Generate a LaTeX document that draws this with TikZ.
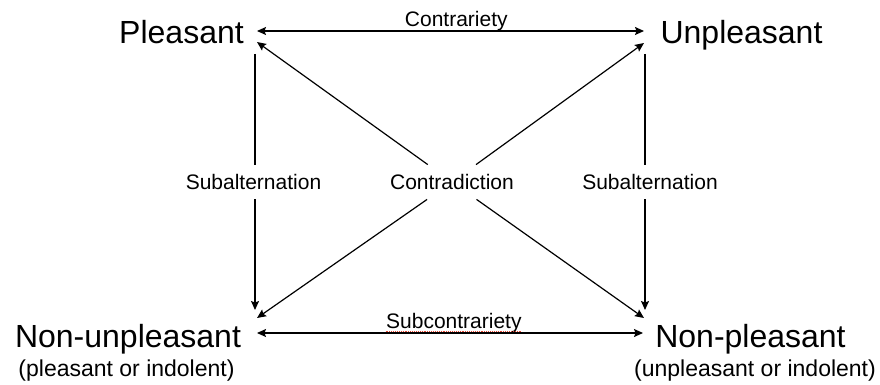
\documentclass[tikz,border=0pt]{standalone}
\usepackage{fontspec}
\setmainfont{Liberation Sans}
\usepackage{tikz}
\usetikzlibrary{arrows.meta, positioning, calc}
\definecolor{spell}{RGB}{226,70,50}

\begin{document}
\begin{tikzpicture}[x=1pt, y=-1pt,
    corner/.style={font=\fontsize{32}{38}\selectfont, anchor=base, inner sep=0pt},
    gloss/.style={font=\fontsize{23}{28}\selectfont, anchor=base, inner sep=0pt},
    lbl/.style={font=\fontsize{21}{25}\selectfont, inner xsep=2pt, inner ysep=9.5pt},
    rel/.style={line width=1.2pt},
    arr/.style={rel, -{Stealth[length=9pt, width=8pt, inset=1.5pt]}},
    arrs/.style={rel, {Stealth[length=9pt, width=8pt, inset=1.5pt]}-{Stealth[length=9pt, width=8pt, inset=1.5pt]}}]
  \useasboundingbox (0,0) rectangle (880,385);
  % square corners
  \node[corner] (pleasant) at (181.5,44) {Pleasant};
  \node[corner] (unpleasant) at (741.5,44) {Unpleasant};
  \node[corner] (nonunpl) at (128,347) {Non-unpleasant};
  \node[corner] (nonpl) at (750.5,347) {Non-pleasant};
  \node[gloss] (nonunplgl) at (126.5,376) {(pleasant or indolent)};
  \node[gloss] (nonplgl) at (755,376) {(unpleasant or indolent)};
  % arrow ends beside the corners
  \coordinate (Ph) at (257,31);  \coordinate (Pd) at (257,42);  \coordinate (Pv) at (255,54);
  \coordinate (Uh) at (644,31);  \coordinate (Ud) at (644,43);  \coordinate (Uv) at (645,54);
  \coordinate (NUh) at (257,333); \coordinate (NUd) at (257,318); \coordinate (NUv) at (255,310);
  \coordinate (NPh) at (643,333); \coordinate (NPd) at (644,318); \coordinate (NPv) at (645,310);
  % relations
  \node[lbl] (contra) at (452,182) {Contradiction};
  \node[lbl] (subalt1) at (253.5,182) {Subalternation};
  \node[lbl] (subalt2) at (650,182) {Subalternation};
  \draw[arrs] (Ph) -- node[pos=0.515, above, inner sep=0pt, font=\fontsize{21}{25}\selectfont] (contrar) {Contrariety} (Uh);
  \draw[arrs] (NUh) -- node[pos=0.51, above, inner sep=0pt, font=\fontsize{21}{25}\selectfont] (subcontrar) {Subcontrariety} (NPh);
  \draw[spell, densely dotted, line width=0.9pt]
    ([yshift=1.2pt]subcontrar.south west) -- ([yshift=1.2pt]subcontrar.south east);
  \draw[arr] (contra) -- (Pd);
  \draw[arr] (contra) -- (Ud);
  \draw[arr] (contra) -- (NUd);
  \draw[arr] (contra) -- (NPd);
  \draw[rel] (Pv) -- (Pv |- subalt1.north);
  \draw[arr] (Pv |- subalt1.south) -- (NUv);
  \draw[rel] (Uv) -- (Uv |- subalt2.north);
  \draw[arr] (Uv |- subalt2.south) -- (NPv);
\end{tikzpicture}
\end{document}
